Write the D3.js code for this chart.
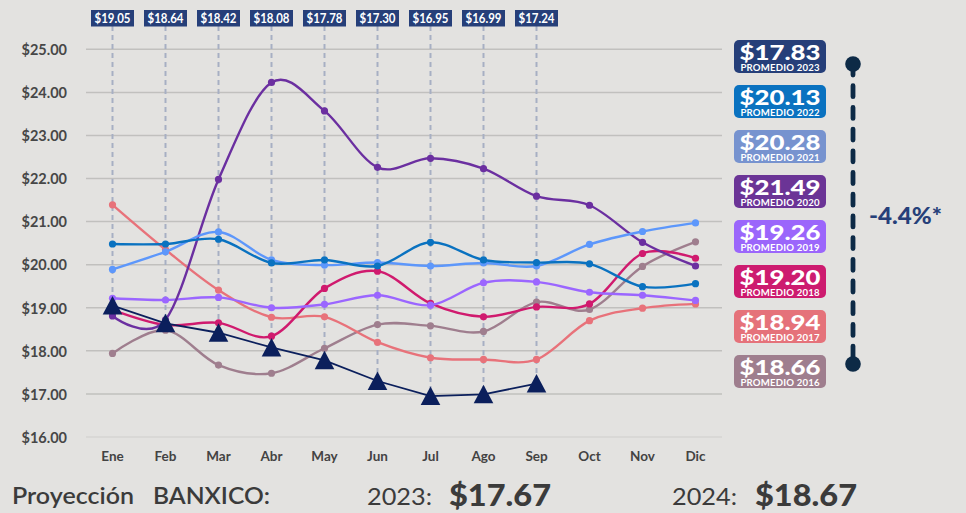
<!DOCTYPE html>
<html>
<head>
<meta charset="utf-8">
<script src="https://cdn.jsdelivr.net/npm/d3@7"></script>
<style>
  html, body { margin: 0; padding: 0; background: #e3e2e0; }
  svg { display: block; }
  text { font-family: Lato, "Open Sans", sans-serif; }
</style>
</head>
<body>
<svg id="chart" width="966" height="513"></svg>
<script>
// Tipo de cambio promedio mensual (MXN por USD)
const meses = ["Ene","Feb","Mar","Abr","May","Jun","Jul","Ago","Sep","Oct","Nov","Dic"];
const yTicks = [16, 17, 18, 19, 20, 21, 22, 23, 24, 25];

const v2023 = [19.05, 18.64, 18.42, 18.08, 17.78, 17.30, 16.95, 16.99, 17.24];
const v2022 = [20.48, 20.48, 20.59, 20.04, 20.11, 19.97, 20.52, 20.11, 20.05, 20.02, 19.49, 19.56];
const v2021 = [19.89, 20.30, 20.76, 20.11, 19.99, 20.05, 19.97, 20.04, 19.97, 20.47, 20.77, 20.97];
const v2020 = [18.81, 18.72, 21.98, 24.23, 23.57, 22.26, 22.47, 22.23, 21.59, 21.38, 20.52, 19.97];
const v2019 = [19.22, 19.18, 19.24, 19.00, 19.08, 19.29, 19.06, 19.58, 19.60, 19.36, 19.29, 19.17];
const v2018 = [18.95, 18.60, 18.65, 18.34, 19.45, 19.85, 19.10, 18.79, 19.02, 19.09, 20.26, 20.15];
const v2017 = [21.39, 20.35, 19.41, 18.78, 18.79, 18.20, 17.84, 17.80, 17.80, 18.70, 18.99, 19.09];
const v2016 = [17.94, 18.48, 17.67, 17.48, 18.06, 18.61, 18.58, 18.45, 19.13, 18.96, 19.96, 20.53];

const anios     = [2023, 2022, 2021, 2020, 2019, 2018, 2017, 2016];
const promedios = [17.83, 20.13, 20.28, 21.49, 19.26, 19.20, 18.94, 18.66];
const variacion = "-4.4%*";
const proyeccion = [{ anio: "2023:", valor: 17.67 }, { anio: "2024:", valor: 18.67 }];

// Colores por año: línea y caja de promedio
const colorLinea = {2023: "#0b1f5c", 2022: "#0a72c0", 2021: "#5d97fb", 2020: "#6b2fa0",
                    2019: "#9b66ff", 2018: "#d01a6e", 2017: "#e8727a", 2016: "#9f7e8e"};
const colorCaja  = {2023: "#263f79", 2022: "#0a72c0", 2021: "#7793cf", 2020: "#6b3496",
                    2019: "#9b66fb", 2018: "#cd1b6f", 2017: "#e5727a", 2016: "#9f7e8e"};

const svg = d3.select("#chart");
const W = 966, H = 513;
svg.append("rect").attr("width", W).attr("height", H).attr("fill", "#e3e2e0");

const x = d3.scaleBand().domain(meses).range([86, 722]).padding(0);
const cx = m => x(m) + x.bandwidth() / 2;
const y = d3.scaleLinear().domain([16, 25]).range([437, 49.3]);
const fmt = v => "$" + d3.format(".2f")(v);

// Líneas de cuadrícula
const grid = svg.append("g");
grid.selectAll("line").data(yTicks).join("line")
  .attr("x1", 86).attr("x2", 722)
  .attr("y1", d => y(d)).attr("y2", d => y(d))
  .attr("stroke", d => d === 16 ? "#d6d5d3" : "#c1c0be")
  .attr("stroke-width", 1.5);

// Eje Y
const yAxis = d3.axisLeft(y).tickValues(yTicks).tickFormat(fmt).tickSize(0).tickPadding(0);
svg.append("g").attr("transform", "translate(67,0)").call(yAxis)
  .call(g => g.select(".domain").remove())
  .selectAll("text")
  .attr("font-family", "Lato, sans-serif").attr("font-size", 14.5).attr("font-weight", 700)
  .attr("fill", "#474747").attr("dy", "0.36em");

// Eje X
const xAxis = d3.axisBottom(x).tickSize(0).tickPadding(0);
svg.append("g").attr("transform", "translate(0,451.5)").call(xAxis)
  .call(g => g.select(".domain").remove())
  .selectAll("text")
  .attr("font-family", "Lato, sans-serif").attr("font-size", 13.5).attr("font-weight", 700)
  .attr("fill", "#434343").attr("dy", "0.71em");

// Guías punteadas hacia cada valor de 2023
const guias = svg.append("g");
v2023.forEach((v, i) => {
  const m = meses[i];
  guias.append("line")
    .attr("x1", cx(m)).attr("x2", cx(m))
    .attr("y1", 26).attr("y2", y(v))
    .attr("stroke", "#a7afc3").attr("stroke-width", 2).attr("stroke-dasharray", "5,4");
});

// Series suavizadas 2016-2022
const series = [
  {anio: 2016, v: v2016}, {anio: 2017, v: v2017}, {anio: 2018, v: v2018}, {anio: 2019, v: v2019},
  {anio: 2020, v: v2020}, {anio: 2021, v: v2021}, {anio: 2022, v: v2022}
];
const curva = d3.line()
  .x((d, i) => cx(meses[i]))
  .y(d => y(d))
  .curve(d3.curveCardinal.tension(0));

const gs = svg.append("g").selectAll("g").data(series).join("g");
gs.append("path")
  .attr("d", d => curva(d.v))
  .attr("fill", "none")
  .attr("stroke", d => colorLinea[d.anio])
  .attr("stroke-width", 2.4);
gs.each(function(s) {
  d3.select(this).selectAll("circle").data(s.v).join("circle")
    .attr("cx", (d, i) => cx(meses[i]))
    .attr("cy", d => y(d))
    .attr("r", 3.6)
    .attr("fill", colorLinea[s.anio]);
});

// Serie 2023: recta con triángulos
svg.append("path")
  .attr("d", d3.line().x((d, i) => cx(meses[i])).y(d => y(d))(v2023))
  .attr("fill", "none").attr("stroke", colorLinea[2023]).attr("stroke-width", 1.8);
const triangulo = "M0,-9.5L9.8,9L-9.8,9Z";
svg.append("g").selectAll("path").data(v2023).join("path")
  .attr("d", triangulo)
  .attr("transform", (d, i) => `translate(${cx(meses[i])},${y(d)})`)
  .attr("fill", colorLinea[2023]);

// Etiquetas de valor 2023 en la parte superior
const etiquetas = svg.append("g").selectAll("g").data(v2023).join("g")
  .attr("transform", (d, i) => `translate(${cx(meses[i])},10)`);
etiquetas.append("rect")
  .attr("x", -21.5).attr("y", 0).attr("width", 43).attr("height", 16.5)
  .attr("fill", "#263f79");
etiquetas.append("text")
  .attr("x", 0).attr("y", 12.6).attr("text-anchor", "middle")
  .attr("font-size", 12.5).attr("font-weight", 700).attr("fill", "#fff")
  .attr("textLength", 36).attr("lengthAdjust", "spacingAndGlyphs")
  .text(d => fmt(d));

// Cajas de promedio anual
const cajas = svg.append("g").selectAll("g").data(anios).join("g")
  .attr("transform", (d, i) => `translate(734,${40 + i * 45})`);
cajas.append("rect")
  .attr("width", 92).attr("height", 33).attr("rx", 5)
  .attr("fill", d => colorCaja[d]);
cajas.append("text")
  .attr("x", 46).attr("y", 19.5).attr("text-anchor", "middle")
  .attr("font-size", 20.5).attr("font-weight", 900).attr("fill", "#fff")
  .attr("textLength", 81).attr("lengthAdjust", "spacingAndGlyphs")
  .text((d, i) => fmt(promedios[i]));
cajas.append("text")
  .attr("x", 46).attr("y", 30.6).attr("text-anchor", "middle")
  .attr("font-size", 9.6).attr("font-weight", 700).attr("fill", "#fff")
  .attr("textLength", 79).attr("lengthAdjust", "spacing")
  .text(d => "PROMEDIO " + d);

// Conector de variación 2016 -> 2023
const conector = svg.append("g");
conector.append("line")
  .attr("x1", 853).attr("x2", 853).attr("y1", 64).attr("y2", 364)
  .attr("stroke", "#0d2a46").attr("stroke-width", 4.8)
  .attr("stroke-linecap", "round").attr("stroke-dasharray", "11 10.7");
conector.selectAll("circle").data([64, 364]).join("circle")
  .attr("cx", 853).attr("cy", d => d).attr("r", 7.8).attr("fill", "#0d2a46");
conector.append("text")
  .attr("x", 869).attr("y", 224.3)
  .attr("font-size", 22.5).attr("font-weight", 900).attr("fill", "#263f79")
  .attr("textLength", 73).attr("lengthAdjust", "spacingAndGlyphs")
  .text(variacion);

// Proyección Banxico
const pie = svg.append("g").attr("fill", "#3b3b3b");
pie.append("text").attr("x", 12).attr("y", 504)
  .attr("font-size", 22).attr("font-weight", 600)
  .attr("textLength", 122).attr("lengthAdjust", "spacingAndGlyphs")
  .text("Proyección");
pie.append("text").attr("x", 153).attr("y", 504)
  .attr("font-size", 22).attr("font-weight", 600)
  .attr("textLength", 117).attr("lengthAdjust", "spacingAndGlyphs")
  .text("BANXICO:");
const posPie = [[367, 449], [672, 755]];
proyeccion.forEach((p, i) => {
  pie.append("text").attr("x", posPie[i][0]).attr("y", 505)
    .attr("font-size", 23).attr("font-weight", 400)
    .attr("textLength", 65).attr("lengthAdjust", "spacingAndGlyphs")
    .text(p.anio);
  pie.append("text").attr("x", posPie[i][1]).attr("y", 506)
    .attr("font-size", 31).attr("font-weight", 900)
    .attr("textLength", 102).attr("lengthAdjust", "spacingAndGlyphs")
    .text(fmt(p.valor));
});
</script>
</body>
</html>
